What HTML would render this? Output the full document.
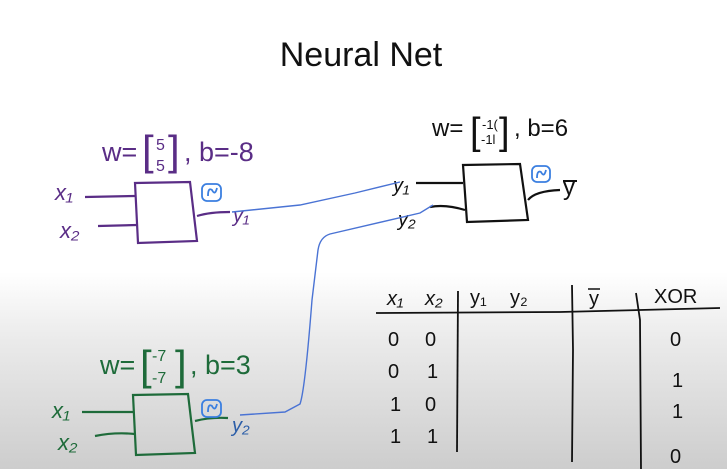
<!DOCTYPE html>
<html><head><meta charset="utf-8"><style>
html,body{margin:0;padding:0;width:727px;height:469px;overflow:hidden}
svg{display:block}
text{font-family:"Liberation Sans",sans-serif}
</style></head><body>
<svg width="727" height="469" viewBox="0 0 727 469" xmlns="http://www.w3.org/2000/svg">
<defs>
<linearGradient id="bg" x1="0" y1="0" x2="0" y2="1">
<stop offset="0" stop-color="#ffffff"/>
<stop offset="0.58" stop-color="#ffffff"/>
<stop offset="0.72" stop-color="#ebebeb"/>
<stop offset="1" stop-color="#cdcdcd"/>
</linearGradient>
</defs>
<rect width="727" height="469" fill="url(#bg)"/>
<text x="361" y="66" font-size="34" text-anchor="middle" fill="#111">Neural Net</text>

<g stroke="#5a2d86" stroke-width="2.2" fill="none">
<path d="M135 183 L190 182 L197 241 L138 243 Z"/>
<path d="M85 197 L135 196"/>
<path d="M98 226 L137 225"/>
<path d="M197 216 Q210 212 230 212"/>
</g>
<g fill="#5a2d86" font-size="27">
<text x="102" y="161">w=</text>
<text x="142" y="165" font-size="42" font-weight="200">[</text>
<text x="156" y="150" font-size="16">5</text>
<text x="156" y="171" font-size="16">5</text>
<text x="168" y="165" font-size="42" font-weight="200">]</text>
<text x="184" y="161">, b=-8</text>
<text x="55" y="200" font-style="italic" font-size="22">x₁</text>
<text x="60" y="238" font-style="italic" font-size="22">x₂</text>
</g>

<g stroke="#111" stroke-width="2.2" fill="none">
<path d="M463 165 L520 164 L528 220 L467 222 Z"/>
<path d="M416 183 L463 183"/>
<path d="M430 207 Q445 204 465 210"/>
<path d="M528 200 Q535 191 560 190"/>
</g>
<g fill="#111" font-size="24">
<text x="432" y="136">w=</text>
<text x="470" y="144" font-size="38" font-weight="200">[</text>
<text x="482" y="129" font-size="13">-1(</text>
<text x="481" y="144" font-size="13">-1l</text>
<text x="499" y="144" font-size="38" font-weight="200">]</text>
<text x="514" y="136">, b=6</text>
<text x="393" y="192" font-size="20" font-style="italic">y₁</text>
<text x="398" y="226" font-size="20" font-style="italic">y₂</text>
<text x="563" y="195" font-size="24">y</text>
<line x1="563" y1="181" x2="577" y2="181" stroke="#111" stroke-width="2"/>
</g>

<g stroke="#1e6b3a" stroke-width="2.2" fill="none">
<path d="M133 395 L188 394 L195 453 L136 455 Z"/>
<path d="M82 412 L133 412"/>
<path d="M95 436 Q115 432 135 434"/>
<path d="M195 421 Q210 417 228 418"/>
</g>
<g fill="#1e6b3a" font-size="27">
<text x="100" y="374">w=</text>
<text x="140" y="380" font-size="42" font-weight="200">[</text>
<text x="152" y="361" font-size="16">-7</text>
<text x="152" y="383" font-size="16">-7</text>
<text x="175" y="380" font-size="42" font-weight="200">]</text>
<text x="190" y="374">, b=3</text>
<text x="52" y="418" font-style="italic" font-size="22">x₁</text>
<text x="58" y="450" font-style="italic" font-size="22">x₂</text>
</g>

<g stroke="#3b7fe0" stroke-width="1.8" fill="none">
<rect x="202" y="184" width="19" height="17" rx="5"/>
<rect x="532" y="166" width="18" height="16" rx="5"/>
<rect x="202" y="400" width="19" height="17" rx="5"/>
<path d="M208 196 Q208 187 212 190 Q215 196 217 188"/>
<path d="M537 178 Q537 170 541 172 Q544 178 546 170"/>
<path d="M208 412 Q208 403 212 406 Q215 412 217 404"/>
</g>
<g font-size="20" font-style="italic">
<text x="233" y="222" fill="#5a2d86">y₁</text>
<text x="232" y="432" fill="#2c5ea8">y₂</text>
</g>

<g stroke="#4a73d4" stroke-width="1.4" fill="none">
<path d="M232 212 L300 205 L355 193 L400 182"/>
<path d="M240 415 L285 412 L300 404 Q305 390 312 300 L318 250 Q320 237 330 234 L420 213 L433 205"/>
</g>

<g stroke="#111" stroke-width="1.8" fill="none">
<path d="M376 313 L560 312 L640 310 L720 308"/>
<path d="M458 291 L457 452"/>
<path d="M572 285 L573 350 L572 462"/>
<path d="M636 293 L640 320 L641 469"/>
</g>
<g fill="#111" font-size="20">
<text x="387" y="305" font-style="italic">x₁</text>
<text x="425" y="305" font-style="italic">x₂</text>
<text x="470" y="304">y₁</text>
<text x="510" y="304">y₂</text>
<text x="589" y="305">y</text>
<line x1="588" y1="289" x2="600" y2="289" stroke="#111" stroke-width="1.5"/>
<text x="654" y="303">XOR</text>
<text x="388" y="346">0</text><text x="425" y="346">0</text>
<text x="388" y="378">0</text><text x="427" y="378">1</text>
<text x="390" y="411">1</text><text x="425" y="411">0</text>
<text x="390" y="443">1</text><text x="427" y="443">1</text>
<text x="670" y="346">0</text>
<text x="672" y="387">1</text>
<text x="672" y="418">1</text>
<text x="670" y="463">0</text>
</g>
</svg>
</body></html>
